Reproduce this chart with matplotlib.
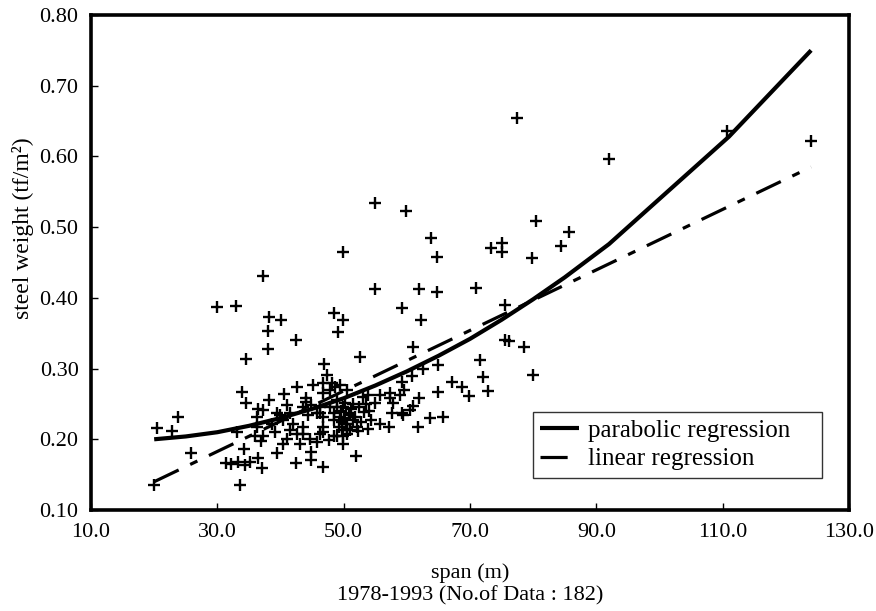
import matplotlib
matplotlib.use("Agg")
import matplotlib.pyplot as plt
import numpy as np

plt.rcParams['font.family'] = ['Liberation Serif', 'DejaVu Serif']

# ---- data (span in m, steel weight in tf/m2) ----
span = [
    77.4, 92.0, 110.7, 124.0, 55.0, 59.9, 49.9, 63.9, 64.8, 55.0,
    62.0, 64.8, 70.9, 73.4, 75.1, 75.1, 80.5, 79.8, 85.6, 84.4,
    48.4, 49.9, 49.1, 59.3, 62.3, 75.5, 75.5, 76.2, 78.6, 80.0,
    60.9, 52.6, 71.6, 65.0, 62.5, 60.8, 72.0, 67.1, 68.8, 69.9,
    72.9, 65.0, 61.9, 61.0, 60.5, 59.4, 63.7, 65.8, 61.8, 59.5,
    37.2, 30.0, 33.0, 38.2, 40.0, 38.0, 42.5, 38.0, 34.6, 46.9,
    47.3, 33.9, 34.6, 36.5, 38.2, 40.6, 42.6, 41.1, 44.1, 45.1,
    46.8, 20.4, 23.8, 22.8, 25.8, 19.9, 33.6, 31.4, 32.2, 34.2,
    33.3, 34.4, 35.2, 36.5, 37.0, 39.5, 42.4, 44.9, 44.9, 46.8,
    49.9, 52.0, 33.1, 36.0, 36.9, 36.3, 39.9, 49.9, 48.4, 44.1,
    53.9, 55.7, 57.3, 58.9, 55.0, 57.6, 59.2, 52.8, 54.4, 55.7,
    57.1, 53.1, 57.3, 59.2,
    41.0, 43.1, 44.7, 45.8, 46.8, 47.6, 48.9, 49.7, 36.2, 38.6,
    40.4, 42.0, 43.6, 41.5, 42.6, 44.4, 45.7, 46.8, 47.8, 46.3,
    48.9, 49.9, 51.0, 51.5, 50.5, 51.0, 52.1, 49.4, 48.4, 37.3,
    39.1, 40.4, 37.3, 39.4, 41.5, 43.6, 44.9, 46.8, 47.8, 48.6,
    49.5, 50.0, 50.3, 50.6, 51.2, 50.8, 49.2, 51.5, 50.2, 49.7,
    51.8, 50.5, 49.0, 52.5, 53.2, 53.5, 54.0, 52.3, 53.8, 43.6,
    46.3, 48.1, 49.4, 50.5, 48.4, 46.3, 46.8, 57.8,
]
weight = [
    0.655, 0.597, 0.636, 0.622, 0.534, 0.523, 0.465, 0.484, 0.458, 0.412,
    0.412, 0.408, 0.414, 0.470, 0.477, 0.465, 0.508, 0.456, 0.493, 0.474,
    0.378, 0.368, 0.352, 0.385, 0.368, 0.390, 0.340, 0.339, 0.330, 0.291,
    0.331, 0.316, 0.312, 0.305, 0.300, 0.289, 0.288, 0.281, 0.274, 0.261,
    0.268, 0.267, 0.258, 0.247, 0.242, 0.234, 0.230, 0.232, 0.218, 0.270,
    0.431, 0.387, 0.389, 0.373, 0.369, 0.353, 0.340, 0.328, 0.314, 0.306,
    0.291, 0.267, 0.251, 0.243, 0.255, 0.264, 0.274, 0.248, 0.259, 0.277,
    0.279, 0.216, 0.231, 0.212, 0.181, 0.136, 0.136, 0.166, 0.165, 0.186,
    0.168, 0.164, 0.168, 0.174, 0.159, 0.181, 0.166, 0.171, 0.182, 0.161,
    0.194, 0.177, 0.211, 0.204, 0.197, 0.232, 0.234, 0.204, 0.204, 0.253,
    0.263, 0.263, 0.265, 0.263, 0.251, 0.237, 0.237, 0.225, 0.227, 0.222,
    0.218, 0.260, 0.258, 0.281,
    0.201, 0.194, 0.201, 0.196, 0.211, 0.199, 0.204, 0.213, 0.218, 0.222,
    0.227, 0.222, 0.218, 0.213, 0.208, 0.234, 0.237, 0.232, 0.246, 0.246,
    0.255, 0.246, 0.237, 0.227, 0.222, 0.213, 0.218, 0.232, 0.227, 0.204,
    0.211, 0.194, 0.241, 0.237, 0.237, 0.246, 0.248, 0.265, 0.270, 0.274,
    0.240, 0.230, 0.222, 0.215, 0.243, 0.235, 0.218, 0.250, 0.252, 0.225,
    0.232, 0.208, 0.245, 0.245, 0.238, 0.250, 0.240, 0.212, 0.215, 0.208,
    0.208, 0.279, 0.277, 0.270, 0.237, 0.237, 0.218, 0.251,
]

# regression curves (vertices)
parab_x = [20, 25, 30, 35, 40, 45, 50, 55, 60, 65, 70, 75, 80, 85, 92, 111, 124]
parab_y = [0.200, 0.204, 0.210, 0.219, 0.230, 0.243, 0.258, 0.276, 0.296,
           0.318, 0.342, 0.369, 0.398, 0.429, 0.476, 0.628, 0.750]
lin_x = [20, 124]
lin_y = [0.140, 0.585]

x_ticks = [10, 30, 50, 70, 90, 110, 130]
y_ticks = [0.10, 0.20, 0.30, 0.40, 0.50, 0.60, 0.70, 0.80]

fig = plt.figure(figsize=(8.76, 6.11), dpi=100)
ax = fig.add_axes([0.1039, 0.1653, 0.8653, 0.8102])

ax.plot(span, weight, linestyle='none', marker='+', color='black',
        markersize=8.5, markeredgewidth=1.7, zorder=3)
ax.plot(parab_x, parab_y, color='black', linewidth=3.0,
        label='parabolic regression', zorder=4, solid_capstyle='butt',
        solid_joinstyle='round')
ax.plot(lin_x, lin_y, color='black', linewidth=2.3,
        linestyle=(0, (8.5, 4, 2.5, 4)), label='linear regression', zorder=4)

ax.set_xlim(10, 130)
ax.set_ylim(0.10, 0.80)
ax.set_xticks(x_ticks)
ax.set_xticklabels([f"{v:.1f}" for v in x_ticks])
ax.set_yticks(y_ticks)
ax.set_yticklabels([f"{v:.2f}" for v in y_ticks])
ax.tick_params(direction='in', length=5, width=1.0, labelsize=16,
               pad=9, top=False, right=False)

for s in ax.spines.values():
    s.set_linewidth(2.6)

ax.set_xlabel('span (m)\n1978-1993 (No.of Data : 182)', fontsize=16,
              labelpad=16, linespacing=1.15)
ax.set_ylabel('steel weight (tf/m²)', fontsize=17)
ax.yaxis.set_label_coords(-0.075, 0.57)

leg = ax.legend(loc='lower left', bbox_to_anchor=(0.583, 0.065, 0.381, 0.14),
                mode='expand', fontsize=18, frameon=True, fancybox=False,
                edgecolor='black', handlelength=1.55, borderpad=0.3,
                labelspacing=0.25, handletextpad=0.35, borderaxespad=0.0)
leg.get_frame().set_linewidth(1.0)

fig.savefig('out.png', dpi=100)
